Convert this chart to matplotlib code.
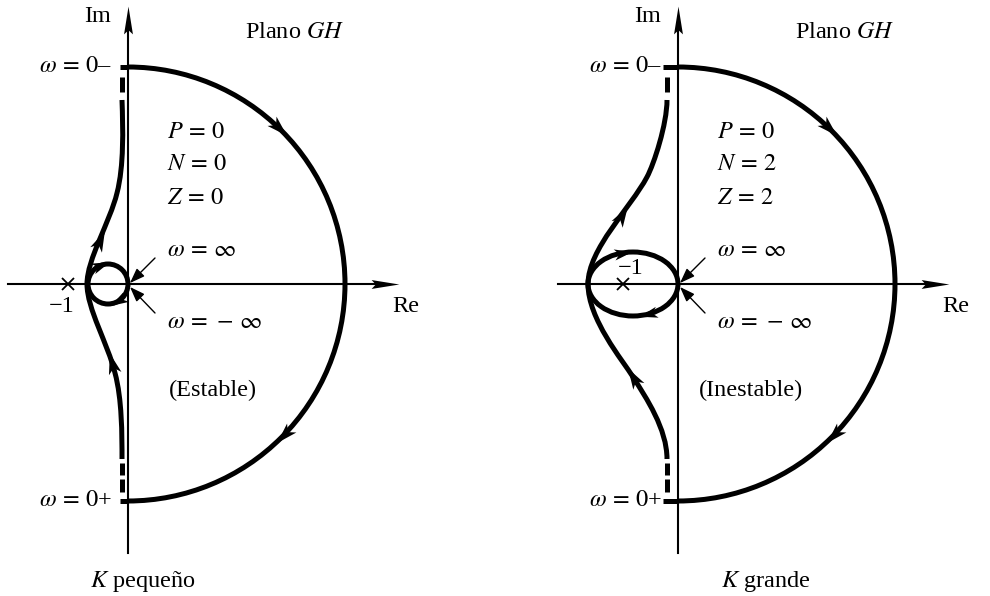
import numpy as np
import matplotlib
matplotlib.use("Agg")
import matplotlib.pyplot as plt
from matplotlib.path import Path
from matplotlib.patches import PathPatch, Arc, Ellipse
from matplotlib.markers import MarkerStyle
from matplotlib.transforms import Affine2D

plt.rcParams['font.family'] = ['Liberation Serif', 'DejaVu Serif']
plt.rcParams['mathtext.fontset'] = 'stix'

# everything below is in pixels measured from each panel's origin
# (the Re/Im crossing), y pointing up
panel_dx = [0, 550]
arc_r = 217
re_axis = (-120, 267)
im_axis = (-269, 274)

# point -1 and the small loop around it (center x, half width, half height)
minus_one_x = [-60, -55]
minus_one_label = [(-66, -22), (-47, 15)]
loop_cx = [-20, -45]
loop_a = [20, 45]
loop_b = [20, 32]
loop_arrow_t = [(112, -60), (103, -70)]

# Bezier control points of the branch omega = 0+ ... 0-
upper_branch = [
    [(-6, 184), (-5, 155), (-4, 118), (-11, 91), (-18, 62), (-41, 25), (-41, 0)],
    [(-11, 184), (-11, 160), (-24, 120), (-31, 107), (-47.5, 76), (-90, 35), (-90, 0)],
]
lower_branch = [
    [(-41, 0), (-41, -25), (-20, -60), (-13, -89), (-6, -115), (-6, -150), (-6, -175)],
    [(-90, 0), (-90, -35), (-55.6, -76), (-45, -93), (-31.7, -114), (-11, -145), (-11, -175)],
]
branch_x = [-6, -11]            # x of the dashed part near the axis
stub_x = [-8, -15]
upper_dashes = [(192, 207)]
lower_dashes = [(-179, -191), (-195, -208)]

# arrowheads on the branch: x, y, heading (deg)
branch_arrows = [
    [(-28, 44, 65), (-16, -79, 105)],
    [(-56, 69, 59), (-45, -93, 121)],
]
arc_arrow_deg = [46, -44]

# texts
status = ["(Estable)", "(Inestable)"]
status_x = [85, 73]
pnz = [[r"$P\,=\,0$", r"$N\,=\,0$", r"$Z\,=\,0$"],
       [r"$P\,=\,0$", r"$N\,=\,2$", r"$Z\,=\,2$"]]
pnz_y = [152, 119, 86]
k_label = ["$K$ pequeño", "$K$ grande"]
k_label_x = [15, 88]

LW = 3.6
stealth = Path([(1, 0), (-1, 0.62), (-0.45, 0), (-1, -0.62), (1, 0)],
               [Path.MOVETO, Path.LINETO, Path.LINETO, Path.LINETO, Path.CLOSEPOLY])
slim = Path([(1, 0), (-1, 0.32), (-0.7, 0), (-1, -0.32), (1, 0)],
            [Path.MOVETO, Path.LINETO, Path.LINETO, Path.LINETO, Path.CLOSEPOLY])


def head(ax, x, y, deg, size=15, shape=stealth):
    m = MarkerStyle(shape, transform=Affine2D().rotate_deg(deg))
    ax.plot(x, y, marker=m, ms=size, color='k', mew=0, ls='none', zorder=5)


fig = plt.figure(figsize=(9.9, 5.96), dpi=100)
ax = fig.add_axes([0, 0, 1, 1])
ax.set_xlim(-128, 862)
ax.set_ylim(-312, 284)
ax.axis('off')

fs = 17.5
for i, dx in enumerate(panel_dx):
    # axes
    ax.plot([dx + re_axis[0], dx + re_axis[1] - 12], [0, 0], color='k', lw=1.5)
    head(ax, dx + re_axis[1] - 10, 0, 0, size=20, shape=slim)
    ax.plot([dx, dx], [im_axis[0], im_axis[1] - 12], color='k', lw=1.5)
    head(ax, dx, im_axis[1] - 10, 90, size=20, shape=slim)

    # big half circle (omega = 0- -> 0+ clockwise)
    ax.add_patch(Arc((dx, 0), 2 * arc_r, 2 * arc_r, theta1=-90, theta2=90,
                     color='k', lw=LW))
    for d in arc_arrow_deg:
        t = np.radians(d)
        head(ax, dx + arc_r * np.cos(t), arc_r * np.sin(t), d - 90)

    # stubs at 0- and 0+
    for yy in (arc_r, -arc_r):
        ax.plot([dx + stub_x[i], dx], [yy, yy], color='k', lw=LW,
                solid_capstyle='butt')
    for a, b in upper_dashes + lower_dashes:
        ax.plot([dx + branch_x[i]] * 2, [a, b], color='k', lw=LW,
                solid_capstyle='butt')

    # branch through the left half plane
    for pts in (upper_branch[i], lower_branch[i]):
        verts = [(dx + x, y) for x, y in pts]
        codes = [Path.MOVETO] + [Path.CURVE4] * 6
        ax.add_patch(PathPatch(Path(verts, codes), fc='none', ec='k', lw=LW,
                               capstyle='butt'))
    for x, y, d in branch_arrows[i]:
        head(ax, dx + x, y, d)

    # small loop
    ax.add_patch(Ellipse((dx + loop_cx[i], 0), 2 * loop_a[i], 2 * loop_b[i],
                         fc='none', ec='k', lw=LW))
    for tdeg in loop_arrow_t[i]:
        t = np.radians(tdeg)
        x = dx + loop_cx[i] + loop_a[i] * np.cos(t)
        y = loop_b[i] * np.sin(t)
        d = np.degrees(np.arctan2(-loop_b[i] * np.cos(t), loop_a[i] * np.sin(t)))
        head(ax, x, y, d, size=13)

    # -1
    ax.plot(dx + minus_one_x[i], 0, marker='x', ms=9, mew=1.3, color='k')
    ax.text(dx + minus_one_label[i][0], minus_one_label[i][1], "−1",
            fontsize=fs, ha='center', va='center')

    # pointers omega = +-inf
    for tail, tip in (((27, 26), (2, 1)), ((27, -29), (2, -3))):
        ax.annotate('', xy=(dx + tip[0], tip[1]), xytext=(dx + tail[0], tail[1]),
                    arrowprops=dict(arrowstyle='-|>,head_length=0.6,head_width=0.22',
                                    lw=1.0, color='k', shrinkA=0, shrinkB=0,
                                    mutation_scale=15))

    # labels
    ax.text(dx - 30, 267, "Im", fontsize=fs, ha='center', va='center')
    ax.text(dx + 278, -23, "Re", fontsize=fs, ha='center', va='center')
    ax.text(dx + 117, 251, "Plano $GH$", fontsize=fs, ha='left', va='center')
    ax.text(dx - 16, arc_r, r"$\omega\,=\,0$–", fontsize=fs, ha='right', va='center')
    ax.text(dx - 16, -arc_r, r"$\omega\,=\,0$+", fontsize=fs, ha='right', va='center')
    for s, yy in zip(pnz[i], pnz_y):
        ax.text(dx + 39, yy, s, fontsize=fs, ha='left', va='center')
    ax.text(dx + 39, 34, r"$\omega\,=\,\infty$", fontsize=fs, ha='left', va='center')
    ax.text(dx + 39, -39, r"$\omega\,=\,-\,\infty$", fontsize=fs, ha='left', va='center')
    ax.text(dx + status_x[i], -106, status[i], fontsize=fs, ha='center', va='center')
    ax.text(dx + k_label_x[i], -298, k_label[i], fontsize=fs, ha='center', va='center')

fig.savefig("out.png", dpi=100, facecolor='white')
